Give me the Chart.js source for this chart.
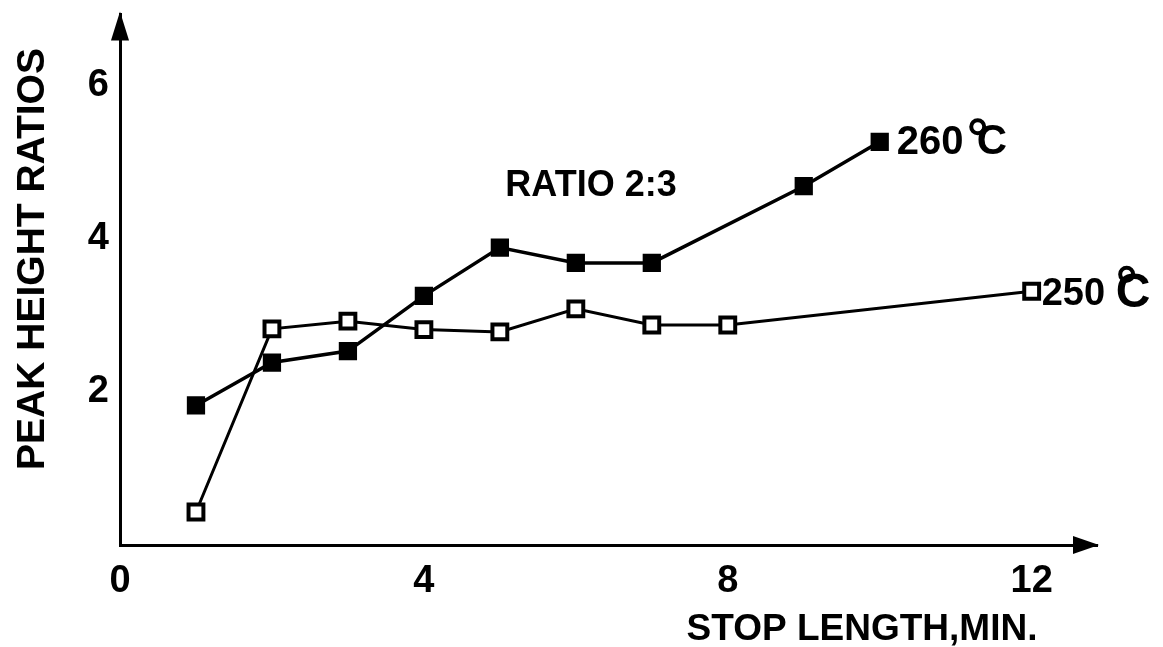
<!DOCTYPE html>
<html lang="en">
<head>
<meta charset="UTF-8">
<title>Peak height ratios vs stop length</title>
<script src="https://cdn.jsdelivr.net/npm/chart.js"></script>
<style>
  html, body { margin: 0; padding: 0; background: #fff; }
  canvas { display: block; }
</style>
</head>
<body>
<canvas id="chart" width="1163" height="647"></canvas>
<script>
// stop length (min) and peak height ratio 2:3 at each temperature
const stop260 = [1, 2, 3, 4, 5, 6, 7, 9, 10];
const ratio260 = [1.82, 2.38, 2.53, 3.25, 3.88, 3.68, 3.68, 4.68, 5.26];
const stop250 = [1, 2, 3, 4, 5, 6, 7, 8, 12];
const ratio250 = [0.43, 2.82, 2.92, 2.81, 2.78, 3.08, 2.87, 2.87, 3.31];
const xTicks = [0, 4, 8, 12];
const yTicks = [2, 4, 6];

const FONT = '"Liberation Sans", Arial, sans-serif';

function pts(xs, ys) {
  return xs.map((x, i) => ({ x: x, y: ys[i] }));
}

// axis arrowheads and free text
const decorations = {
  id: 'decorations',
  afterDraw(chart) {
    const ctx = chart.ctx;
    const a = chart.chartArea;
    const xs = chart.scales.x, ys = chart.scales.y;
    ctx.save();
    ctx.fillStyle = '#000';
    ctx.strokeStyle = '#000';

    // arrowheads
    ctx.beginPath();
    ctx.moveTo(a.left, a.top - 3);
    ctx.lineTo(a.left - 9, a.top + 26);
    ctx.lineTo(a.left + 9, a.top + 26);
    ctx.closePath();
    ctx.fill();
    ctx.beginPath();
    ctx.moveTo(a.right + 2, a.bottom);
    ctx.lineTo(a.right - 24, a.bottom - 9);
    ctx.lineTo(a.right - 24, a.bottom + 9);
    ctx.closePath();
    ctx.fill();

    // axis titles
    ctx.textBaseline = 'middle';
    ctx.textAlign = 'center';
    ctx.font = 'bold 39px ' + FONT;
    ctx.save();
    ctx.translate(33, 259);
    ctx.rotate(-Math.PI / 2);
    ctx.fillText('PEAK HEIGHT RATIOS', 0, 0);
    ctx.restore();
    ctx.font = 'bold 37px ' + FONT;
    ctx.fillText('STOP LENGTH,MIN.', 862, 630);

    ctx.font = 'bold 36px ' + FONT;
    ctx.fillText('RATIO 2:3', 591, 186);

    // series end labels: number, then a large C with the degree ring over its top-left
    function endLabel(text, x, y, size, dx, dy, cdx, cSize, ringDx, ringDy) {
      const px = xs.getPixelForValue(x), py = ys.getPixelForValue(y);
      ctx.textAlign = 'left';
      ctx.font = 'bold ' + size + 'px ' + FONT;
      ctx.fillText(text, px + dx, py + dy);
      ctx.font = 'bold ' + cSize + 'px ' + FONT;
      ctx.fillText('C', px + cdx, py + dy);
      ctx.lineWidth = 4;
      ctx.beginPath();
      ctx.arc(px + cdx + ringDx, py + dy + ringDy, 6.5, 0, Math.PI * 2);
      ctx.stroke();
    }
    endLabel('260', stop260[stop260.length - 1], ratio260[ratio260.length - 1], 40, 17, 1, 97, 42, 1, -16);
    endLabel('250', stop250[stop250.length - 1], ratio250[ratio250.length - 1], 38, 10, 3, 84, 48, 11, -20);
    ctx.restore();
  }
};

new Chart(document.getElementById('chart'), {
  type: 'scatter',
  data: {
    datasets: [
      {
        label: '260 °C',
        data: pts(stop260, ratio260),
        showLine: true,
        borderColor: '#000',
        borderWidth: 3.5,
        pointStyle: 'rect',
        pointRadius: 11.5,
        pointBackgroundColor: '#000',
        pointBorderColor: '#000',
        pointBorderWidth: 2
      },
      {
        label: '250 °C',
        data: pts(stop250, ratio250),
        showLine: true,
        borderColor: '#000',
        borderWidth: 3,
        pointStyle: 'rect',
        pointRadius: 10.5,
        pointBackgroundColor: '#fff',
        pointBorderColor: '#000',
        pointBorderWidth: 4
      }
    ]
  },
  options: {
    responsive: false,
    animation: false,
    devicePixelRatio: 1,
    layout: { padding: { top: 14, right: 66, left: 0, bottom: 0 } },
    plugins: { legend: { display: false }, tooltip: { enabled: false } },
    scales: {
      x: {
        type: 'linear',
        min: 0,
        max: 12.86,
        afterBuildTicks(scale) { scale.ticks = xTicks.map(v => ({ value: v })); },
        afterFit(scale) { scale.height = 102; scale.paddingLeft = 0; scale.paddingRight = 0; },
        grid: { display: false, drawTicks: false },
        border: { display: true, color: '#000', width: 3 },
        ticks: {
          padding: 14,
          color: '#000',
          font: { family: FONT, size: 38, weight: 'bold' }
        }
      },
      y: {
        type: 'linear',
        min: 0,
        max: 6.92,
        afterBuildTicks(scale) { scale.ticks = yTicks.map(v => ({ value: v })); },
        afterFit(scale) { scale.width = 120; scale.paddingTop = 0; scale.paddingBottom = 0; },
        grid: { display: false, drawTicks: false },
        border: { display: true, color: '#000', width: 3 },
        ticks: {
          padding: 11,
          color: '#000',
          font: { family: FONT, size: 38, weight: 'bold' }
        }
      }
    }
  },
  plugins: [decorations]
});
</script>
</body>
</html>
